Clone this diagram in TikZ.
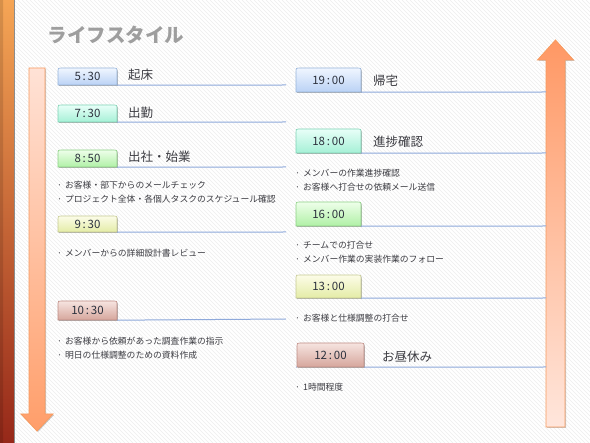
\documentclass[tikz,border=0pt]{standalone}
\usepackage{fontspec}
\setmainfont{Noto Sans CJK JP}
\usetikzlibrary{shadows}
\definecolor{tx}{RGB}{60,60,66}
\definecolor{boxtx}{RGB}{45,50,62}
\definecolor{tlc}{RGB}{142,169,219}
\definecolor{arrowedge}{RGB}{247,155,95}
\definecolor{titlec}{RGB}{158,158,158}
\newcommand\tabbox[7]{%
  \path[#6] (#2,#5) -- (#2,#3+3) .. controls (#2,#3) .. (#2+3,#3) -- (#4-3,#3) .. controls (#4,#3) .. (#4,#3+3) -- (#4,#5) -- cycle;
  \node[timetxt, minimum width={(#4-#2)*1pt}, minimum height={(#5-#3)*1pt}] (#1) at ({(#2+#4)/2},{(#3+#5)/2}) {#7};
}
\newcommand\tm[2]{#1\kern1.8pt:\kern1.8pt#2}
\tikzset{
  stripe/.style={draw=black!7, line width=0.6pt},
  tl/.style={draw=tlc, line width=1pt},
  boxbase/.style={line width=0.6pt, drop shadow={shadow xshift=0.8pt, shadow yshift=-1pt, opacity=0.3, fill=black}},
  bluebox/.style={boxbase, top color={rgb,255:red,240;green,246;blue,255}, bottom color={rgb,255:red,186;green,210;blue,245}, draw={rgb,255:red,150;green,180;blue,218}},
  mintbox/.style={boxbase, top color={rgb,255:red,232;green,255;blue,248}, bottom color={rgb,255:red,165;green,240;blue,214}, draw={rgb,255:red,125;green,210;blue,180}},
  greenbox/.style={boxbase, top color={rgb,255:red,238;green,255;blue,234}, bottom color={rgb,255:red,176;green,240;blue,166}, draw={rgb,255:red,140;green,208;blue,132}},
  yellowbox/.style={boxbase, top color={rgb,255:red,252;green,252;blue,232}, bottom color={rgb,255:red,228;green,236;blue,166}, draw={rgb,255:red,198;green,202;blue,146}},
  rosebox/.style={boxbase, top color={rgb,255:red,246;green,228;blue,224}, bottom color={rgb,255:red,214;green,166;blue,156}, draw={rgb,255:red,190;green,140;blue,132}},
  timetxt/.style={inner sep=0pt, font=\fontsize{11.5}{12}\selectfont, text=boxtx},
  lbl/.style={anchor=west, inner sep=0pt, font=\fontsize{12.5}{14}\selectfont, text=tx},
  bul/.style={anchor=west, inner sep=0pt, font=\fontsize{8.8}{10}\selectfont, text=tx},
  arrowshape/.style={draw=arrowedge, line width=0.8pt, drop shadow={shadow xshift=1pt, shadow yshift=-1pt, opacity=0.2, fill=black}},
}
\begin{document}
\begin{tikzpicture}[x=1pt,y=-1pt]
\useasboundingbox (0,0) rectangle (590,443);
\fill[white] (0,0) rectangle (590,443);
% stripes
\begin{scope}
  \clip (14,0) rectangle (590,443);
  \foreach \i in {-450,-446,...,590} \draw[stripe] (\i,0) -- (\i+443,443);
\end{scope}
% left bar
\shade[top color={rgb,255:red,245;green,165;blue,85}, middle color={rgb,255:red,238;green,116;blue,26}, bottom color={rgb,255:red,150;green,40;blue,25}] (0,0) rectangle (14,443);
\shade[left color=black, right color=black, opacity=0.12] (0,0) rectangle (3,443);
\draw[black!45, line width=0.6pt] (14,0) -- (14,443);
% title
\node[font=\fontsize{19.5}{22}\selectfont\bfseries, text=titlec] (title) at (116,35) {ライフスタイル};
% arrows
\path[arrowshape, top color={rgb,255:red,255;green,226;blue,214}, bottom color={rgb,255:red,255;green,158;blue,106}]
  (29,68) -- (45,68) -- (45,414) -- (53,414) -- (37,431) -- (21,414) -- (29,414) -- cycle;
\path[arrowshape, top color={rgb,255:red,255;green,152;blue,100}, bottom color={rgb,255:red,255;green,230;blue,220}]
  (546,427) -- (565,427) -- (565,60) -- (573.5,60) -- (555.5,40) -- (537.5,60) -- (546,60) -- cycle;
% left column boxes
\tabbox{b0530}{58}{68}{117}{85}{bluebox}{\tm{5}{30}}
\tabbox{b0730}{58}{105}{117}{122}{mintbox}{\tm{7}{30}}
\tabbox{b0850}{58}{150}{117}{167}{greenbox}{\tm{8}{50}}
\tabbox{b0930}{58}{216}{117}{232}{yellowbox}{\tm{9}{30}}
\tabbox{b1030}{58}{301}{117}{320}{rosebox}{\tm{10}{30}}
% right column boxes
\tabbox{b1900}{296}{68}{361}{92}{bluebox}{\tm{19}{00}}
\tabbox{b1800}{296}{129}{361}{153}{mintbox}{\tm{18}{00}}
\tabbox{b1600}{296}{202}{361}{226}{greenbox}{\tm{16}{00}}
\tabbox{b1300}{296}{275}{361}{298}{yellowbox}{\tm{13}{00}}
\tabbox{b1200}{297}{343}{364}{367}{rosebox}{\tm{12}{00}}
% timeline underlines
\draw[tl] (b0530.south east) -- (286,85);
\draw[tl] (b0730.south east) -- (286,122);
\draw[tl] (b0850.south east) -- (286,167);
\draw[tl] (b0930.south east) -- (286,232);
\draw[tl] (b1030.south east) -- (286,319);
\draw[tl] (b1900.south east) -- (546,92);
\draw[tl] (b1800.south east) -- (546,153);
\draw[tl] (b1600.south east) -- (546,226);
\draw[tl] (b1300.south east) -- (546,298);
\draw[tl] (296,367) -- (b1200.south west);
\draw[tl] (b1200.south east) -- (546,367);
% labels
\node[lbl] (l0530) at (128,75) {起床};
\node[lbl] (l0730) at (128,113) {出勤};
\node[lbl] (l0850) at (128,157) {出社・始業};
\node[lbl] (l1900) at (373,81) {帰宅};
\node[lbl] (l1800) at (373,142) {進捗確認};
\node[lbl] (l1200) at (382,357) {お昼休み};
% bullets left
\node[bul] (t1) at (57,185) {·\hspace{3pt}お客様・部下からのメールチェック};
\node[bul] (t2) at (57,199) {·\hspace{3pt}プロジェクト全体・各個人タスクのスケジュール確認};
\node[bul] (t3) at (57,253) {·\hspace{3pt}メンバーからの詳細設計書レビュー};
\node[bul] (t4) at (57,341) {·\hspace{3pt}お客様から依頼があった調査作業の指示};
\node[bul] (t5) at (57,355) {·\hspace{3pt}明日の仕様調整のための資料作成};
% bullets right
\node[bul] (t6) at (295,173) {·\hspace{3pt}メンバーの作業進捗確認};
\node[bul] (t7) at (295,187) {·\hspace{3pt}お客様へ打合せの依頼メール送信};
\node[bul] (t8) at (295,245) {·\hspace{3pt}チームでの打合せ};
\node[bul] (t9) at (295,259) {·\hspace{3pt}メンバー作業の実装作業のフォロー};
\node[bul] (t10) at (295,318) {·\hspace{3pt}お客様と仕様調整の打合せ};
\node[bul] (t11) at (295,387) {·\hspace{3pt}1時間程度};
\end{tikzpicture}
\end{document}
